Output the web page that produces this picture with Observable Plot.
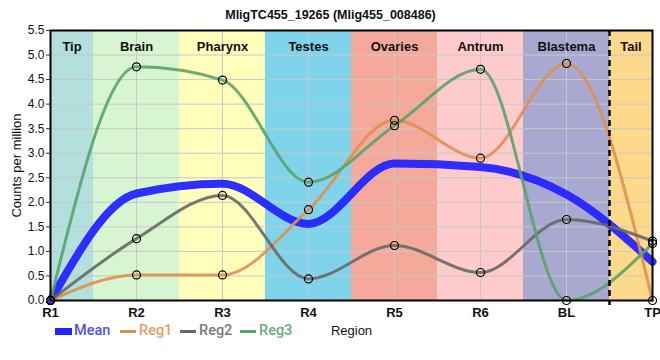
<!DOCTYPE html>
<html>
<head>
<meta charset="utf-8">
<script src="https://cdn.jsdelivr.net/npm/d3@7"></script>
<script src="https://cdn.jsdelivr.net/npm/@observablehq/plot@0.6"></script>
<style>
  body { margin: 0; background: #fff; font-family: "Liberation Sans", Arial, sans-serif; }
  #wrap { position: relative; width: 660px; height: 360px; }
  .lg { position: absolute; top: 322px; height: 18px; font-family: Roboto, "Liberation Sans", sans-serif; font-size: 14.5px; font-weight: 500; line-height: 18px; }
  .sw { position: absolute; }
</style>
</head>
<body>
<div id="wrap"></div>
<script>
const title = "MligTC455_19265 (Mlig455_008486)";
const regions = ["R1", "R2", "R3", "R4", "R5", "R6", "BL", "TP"];
const mean = [0, 2.18, 2.38, 1.56, 2.79, 2.72, 2.16, 0.79];
const reg1 = [0, 0.52, 0.52, 1.85, 3.67, 2.90, 4.83, 0];
const reg2 = [0, 1.26, 2.14, 0.44, 1.12, 0.57, 1.65, 1.21];
const reg3 = [0, 4.76, 4.49, 2.41, 3.56, 4.71, 0, 1.16];
const zoneNames = ["Tip", "Brain", "Pharynx", "Testes", "Ovaries", "Antrum", "Blastema", "Tail"];
const zoneStart = [0, 0.5, 1.5, 2.5, 3.5, 4.5, 5.5, 6.5];
const zoneEnd = [0.5, 1.5, 2.5, 3.5, 4.5, 5.5, 6.5, 7];
const zoneColors = ["#b3e0dc", "#d7f5d0", "#ffffbb", "#7fd4ec", "#f4a99a", "#fdcbcb", "#a8a8d0", "#fdd98c"];
const seriesNames = ["Reg1", "Reg2", "Reg3"];
const seriesColors = ["#e0904e", "#686868", "#5aa36a"];
const meanColor = "#2424ff";
const yTicks = [0, 0.5, 1, 1.5, 2, 2.5, 3, 3.5, 4, 4.5, 5, 5.5];
const yLabel = "Counts per million";
const xLabel = "Region";

const zones = zoneNames.map((n, i) => ({name: n, x1: zoneStart[i], x2: zoneEnd[i], c: zoneColors[i], xc: (zoneStart[i] + zoneEnd[i]) / 2}));
const meanData = regions.map((r, i) => ({x: i, y: mean[i]}));
const regData = [reg1, reg2, reg3].flatMap((arr, k) => arr.map((v, i) => ({x: i, y: v, s: seriesNames[k]})));

const chart = Plot.plot({
  width: 660,
  height: 360,
  marginLeft: 50,
  marginRight: 8,
  marginTop: 30,
  marginBottom: 60,
  style: {fontFamily: "'Liberation Sans', Arial, sans-serif", background: "white", overflow: "visible"},
  x: {domain: [0, 7]},
  y: {domain: [0, 5.5]},
  color: {domain: seriesNames, range: seriesColors},
  marks: [
    Plot.rect(zones, {x1: "x1", x2: "x2", fill: "c"}),
    Plot.gridX(d3.range(0, 8), {stroke: "#c8c8c8", strokeOpacity: 1, strokeWidth: 1}),
    Plot.gridY(yTicks, {stroke: "#c8c8c8", strokeOpacity: 1, strokeWidth: 1}),
    Plot.text(zones, {x: "xc", text: "name", frameAnchor: "top", dy: 11, fontWeight: "bold", fontSize: 13, fill: "#111"}),
    Plot.line(meanData, {x: "x", y: "y", stroke: meanColor, strokeWidth: 8, strokeOpacity: 0.95, curve: "monotone-x"}),
    Plot.line(regData, {x: "x", y: "y", z: "s", stroke: "s", strokeWidth: 3, strokeOpacity: 0.9, curve: "monotone-x"}),
    Plot.dot(regData, {x: "x", y: "y", r: 4, stroke: "black", strokeWidth: 1.2, fill: "none"}),
    Plot.ruleX([6.5], {stroke: "black", strokeWidth: 2.5, strokeDasharray: "6,4", insetBottom: -5}),
    Plot.frame({stroke: "black", strokeWidth: 2}),
    Plot.axisY(yTicks, {tickSize: 4, tickPadding: 2, stroke: "#333", tickFormat: d3.format(".1f"), fontSize: 12, fill: "#111", label: null}),
    Plot.axisX(d3.range(0, 8), {tickSize: 0, tickPadding: 7, tickFormat: i => regions[i], fontSize: 13, fontWeight: "bold", fill: "#111", label: null}),
    Plot.text([yLabel], {frameAnchor: "left", textAnchor: "middle", dx: -34, rotate: -90, fontSize: 13, fill: "#111"}),
    Plot.text([xLabel], {frameAnchor: "bottom", dy: 34, fontSize: 13, fill: "#111"}),
    Plot.text([title], {frameAnchor: "top", dx: -21, dy: -20, fontWeight: "bold", fontSize: 12.5, fill: "#111"})
  ]
});

const wrap = document.getElementById("wrap");
wrap.appendChild(chart);

// legend (HTML)
const legendItems = [
  {name: "Mean", color: meanColor, text: "#5050ff", sx: 55, sw: 17, sh: 7, tx: 74},
  {name: "Reg1", color: seriesColors[0], text: "#eb9a62", sx: 120, sw: 16, sh: 3, tx: 139},
  {name: "Reg2", color: seriesColors[1], text: "#7a7a7a", sx: 180, sw: 16, sh: 3, tx: 199},
  {name: "Reg3", color: seriesColors[2], text: "#68ad7c", sx: 240, sw: 16, sh: 3, tx: 259}
];
for (const it of legendItems) {
  const s = document.createElement("div");
  s.className = "sw";
  s.style.left = it.sx + "px";
  s.style.top = (331 - it.sh / 2) + "px";
  s.style.width = it.sw + "px";
  s.style.height = it.sh + "px";
  s.style.background = it.color;
  wrap.appendChild(s);
  const t = document.createElement("div");
  t.className = "lg";
  t.style.left = it.tx + "px";
  t.style.color = it.text;
  t.textContent = it.name;
  wrap.appendChild(t);
}
</script>
</body>
</html>
